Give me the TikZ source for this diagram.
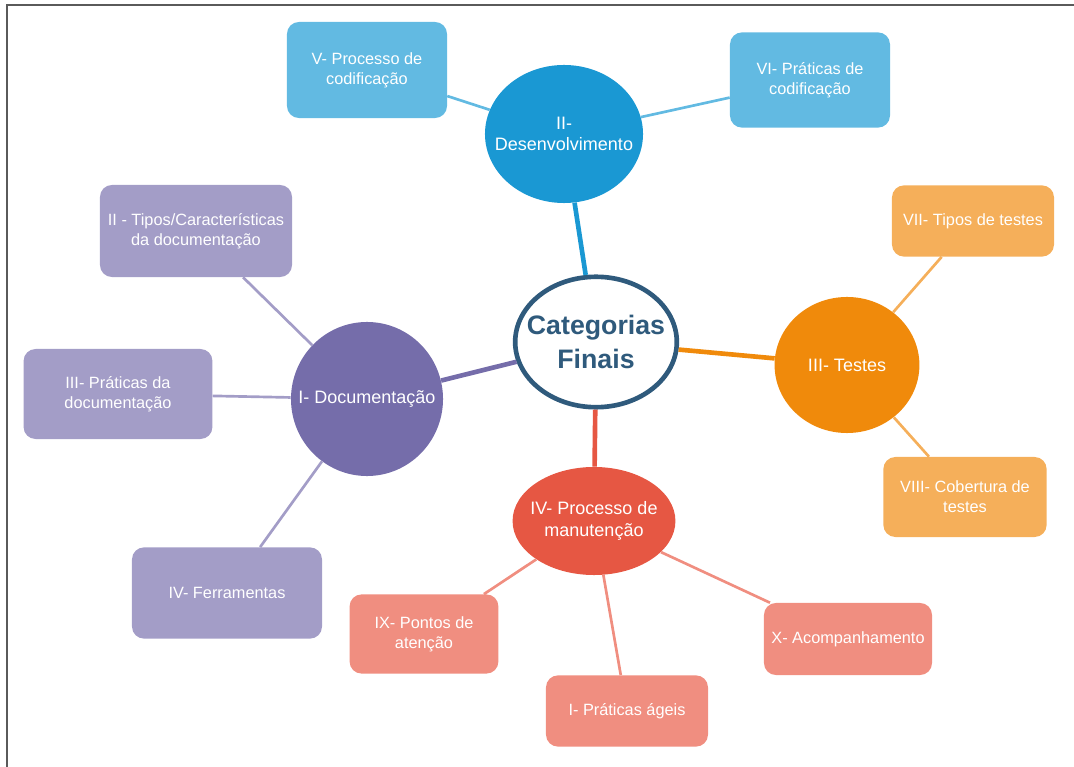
\documentclass[tikz,border=0pt]{standalone}
\usepackage{fontspec}
\setmainfont{Liberation Sans}
\usepackage{xcolor}
\usetikzlibrary{shapes.geometric}

\definecolor{centreblue}{HTML}{2F5A7C}
\definecolor{devblue}{HTML}{1A98D3}
\definecolor{devlight}{HTML}{62BAE2}
\definecolor{docpurple}{HTML}{756DAA}
\definecolor{doclight}{HTML}{A39DC7}
\definecolor{testorange}{HTML}{F08A0B}
\definecolor{testlight}{HTML}{F5AF5A}
\definecolor{mantred}{HTML}{E65743}
\definecolor{mantlight}{HTML}{F08E80}
\definecolor{framegray}{HTML}{5A5A5A}

\begin{document}
\begin{tikzpicture}[x=0.025cm, y=-0.025cm,
  catbox/.style={rectangle, rounded corners=0.3cm, fill=#1, text=white,
    align=center, inner sep=0pt, font=\fontsize{11.6}{14.2}\selectfont},
  catnode/.style={ellipse, fill=#1, inner sep=0pt},
  cattext/.style={text=white, align=center, font=\fontsize{12.8}{15.2}\selectfont},
  subline/.style={line width=1.9pt, draw=#1},
  mainline/.style={line width=3.3pt, draw=#1}]
  \useasboundingbox (0,0) rectangle (1074,767);

  % Frame
  \draw[framegray, line width=1.4pt] (7,767) -- (7,5) -- (1074,5);

  % Centre
  \node[ellipse, draw=centreblue, line width=3.3pt, fill=white, inner sep=0pt,
    minimum width=4.04cm, minimum height=3.26cm] (centre) at (596,342) {};
  \node[text=centreblue, align=center, font=\fontsize{19}{24}\selectfont\bfseries]
    (centretext) at (centre) {Categorias\\Finais};

  % Main categories
  \node[catnode=devblue, minimum width=3.95cm, minimum height=3.45cm] (dev) at (564,134) {};
  \node[cattext] (devtext) at (dev) {II-\\Desenvolvimento};
  \node[catnode=docpurple, minimum width=3.8cm, minimum height=3.85cm] (doc) at (367,399) {};
  \node[cattext] (doctext) at (doc) {I- Documentação};
  \node[catnode=testorange, minimum width=3.62cm, minimum height=3.4cm] (test) at (847,365) {};
  \node[cattext] (testtext) at (test) {III- Testes};
  \node[catnode=mantred, minimum width=4.07cm, minimum height=2.7cm] (mant) at (594,521) {};
  \node[cattext] (manttext) at (mant) {IV- Processo de\\manutenção};

  % Subcategories
  \node[catbox=devlight, minimum width=4cm, minimum height=2.4cm] (codproc) at (367,70) {V- Processo de\\codificação};
  \node[catbox=devlight, minimum width=4cm, minimum height=2.38cm] (codprat) at (810,80) {VI- Práticas de\\codificação};

  \node[catbox=doclight, minimum width=4.8cm, minimum height=2.3cm] (doctipos) at (196,231) {II - Tipos/Características\\da documentação};
  \node[catbox=doclight, minimum width=4.72cm, minimum height=2.25cm] (docprat) at (118,394) {III- Práticas da\\documentação};
  \node[catbox=doclight, minimum width=4.75cm, minimum height=2.28cm] (docferr) at (227,593) {IV- Ferramentas};

  \node[catbox=testlight, minimum width=4.05cm, minimum height=1.78cm] (testtipos) at (973,221) {VII- Tipos de testes};
  \node[catbox=testlight, minimum width=4.08cm, minimum height=2cm] (testcob) at (965,497) {VIII- Cobertura de\\testes};

  \node[catbox=mantlight, minimum width=3.72cm, minimum height=1.98cm] (mantpont) at (424,634) {IX- Pontos de\\atenção};
  \node[catbox=mantlight, minimum width=4.05cm, minimum height=1.78cm] (mantageis) at (627,711) {I- Práticas ágeis};
  \node[catbox=mantlight, minimum width=4.2cm, minimum height=1.8cm] (mantacomp) at (848,639) {X- Acompanhamento};

  % Connectors
  \draw[mainline=devblue] (centre) -- (dev);
  \draw[mainline=docpurple] (centre) -- (doc);
  \draw[mainline=testorange] (centre) -- (test);
  \draw[mainline=mantred] (centre) -- (mant);

  \draw[subline=devlight] (dev) -- (codproc);
  \draw[subline=devlight] (dev) -- (codprat);
  \draw[subline=doclight] (doc) -- (doctipos);
  \draw[subline=doclight] (doc) -- (docprat);
  \draw[subline=doclight] (doc) -- (docferr);
  \draw[subline=testlight] (test) -- (testtipos);
  \draw[subline=testlight] (test) -- (testcob);
  \draw[subline=mantlight] (mant) -- (mantpont);
  \draw[subline=mantlight] (mant) -- (mantageis);
  \draw[subline=mantlight] (mant) -- (mantacomp);

\end{tikzpicture}
\end{document}
